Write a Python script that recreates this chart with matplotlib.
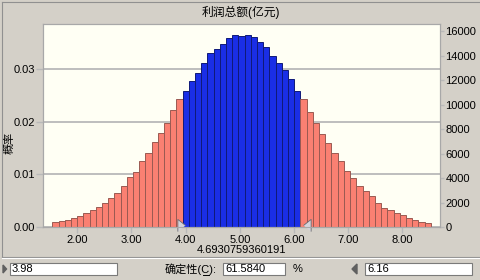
import matplotlib
matplotlib.use('Agg')
import matplotlib.pyplot as plt
import numpy as np
from matplotlib.patches import Rectangle
from matplotlib.lines import Line2D
from matplotlib.ticker import FormatStrFormatter

plt.rcParams['font.family'] = ['Liberation Sans', 'Noto Sans CJK SC']

# histogram data (probability per bin)
probs = [0.00095, 0.0011, 0.0014, 0.0018, 0.0020, 0.0027, 0.0033, 0.0038, 0.0046, 0.0056,
         0.0065, 0.0079, 0.0095, 0.0105, 0.0125, 0.0141, 0.0161, 0.0179, 0.0198, 0.0222, 0.0243,
         0.0259, 0.0278, 0.0293, 0.0313, 0.0332, 0.0338, 0.0349, 0.0360, 0.0366, 0.0363,
         0.0365, 0.0362, 0.0353, 0.0342, 0.0326, 0.0313, 0.0299, 0.0282, 0.0259,
         0.0243, 0.0219, 0.0198, 0.0177, 0.0159, 0.0141, 0.0125, 0.0107, 0.0093, 0.0079,
         0.0069, 0.0059, 0.0046, 0.0037, 0.0032, 0.0027, 0.0022, 0.0017, 0.0014, 0.0010, 0.0008]
bin_lo, bin_hi = 1.54, 8.525
lower, upper = 3.98, 6.16
certainty = '61.5840'
mean_text = '4.6930759360191'
title = '利润总额(亿元)'
x_ticks = [2, 3, 4, 5, 6, 7, 8]
y_ticks = [0.0, 0.01, 0.02, 0.03]
freq_ticks = list(range(0, 16001, 2000))

W, H = 481, 280
fig = plt.figure(figsize=(W / 100, H / 100), dpi=100, facecolor='#d4d0c8')

def fx(x):
    return x / W

def fy(y):
    return 1 - y / H

ax = fig.add_axes([fx(43), fy(227), (440 - 43) / W, (227 - 24) / H])
ax.set_facecolor('#fffff4')

edges = np.linspace(bin_lo, bin_hi, len(probs) + 1)
centers = (edges[:-1] + edges[1:]) / 2
inside = (centers >= lower) & (centers <= upper)
fc = ['#1a2ee6' if k else '#fa8072' for k in inside]
ec = ['#101a78' if k else '#9a5a52' for k in inside]
ax.bar(edges[:-1], probs, width=np.diff(edges), align='edge', color=fc,
       edgecolor=ec, linewidth=0.7)

ax.set_xlim(1.367, 8.696)
ax.set_ylim(0, 0.03865)
ax.set_xticks(x_ticks)
ax.set_yticks(y_ticks)
ax.xaxis.set_major_formatter(FormatStrFormatter('%.2f'))
ax.yaxis.set_major_formatter(FormatStrFormatter('%.2f'))
ax.yaxis.grid(True, color='#b9b9b9', lw=1.3)
ax.set_axisbelow(True)
ax.tick_params(axis='y', length=5, color='#b9b9b9', width=1.0, labelsize=8, pad=1)
ax.tick_params(axis='x', length=4, color='#b9b9b9', width=1.0, labelsize=8, pad=2)
for s in ax.spines.values():
    s.set_color('#a8a8a8')
    s.set_linewidth(0.8)

ax2 = ax.twinx()
ax2.set_ylim(0, 16600)
ax2.set_yticks(freq_ticks)
ax2.tick_params(axis='y', length=3, color='#b9b9b9', width=1.0, labelsize=8, pad=1)
for s in ax2.spines.values():
    s.set_color('#a8a8a8')
    s.set_linewidth(0.8)

# certainty range markers
right_tri = [(-1, -0.8), (-1, 0.8), (0, 0)]
left_tri = [(1, -0.8), (1, 0.8), (0, 0)]
ax.plot([lower], [0.0003], marker=right_tri, ms=11, mfc='#d4d4dc', mec='#6a6a70',
        mew=0.6, clip_on=False, zorder=6, ls='none')
ax.plot([upper], [0.0003], marker=left_tri, ms=11, mfc='#d4d4dc', mec='#6a6a70',
        mew=0.6, clip_on=False, zorder=6, ls='none')

fig.text(0.5, fy(12), title, ha='center', va='center', fontsize=8.5)
fig.text(fx(10), fy(143), '概率', rotation=90, ha='center', va='center', fontsize=8)
fig.text(fx(241.5), fy(250), mean_text, ha='center', va='center', fontsize=8)

# panel frame and separator
fig.add_artist(Line2D([fx(2), fx(479)], [fy(2), fy(2)], color='#909090', lw=0.8))
fig.add_artist(Line2D([fx(2), fx(2)], [fy(2), fy(257)], color='#909090', lw=0.8))
fig.add_artist(Line2D([fx(2), fx(479)], [fy(257), fy(257)], color='#909090', lw=0.8))
fig.add_artist(Line2D([fx(2), fx(479)], [fy(258), fy(258)], color='#ffffff', lw=0.8))

# bottom controls
def textbox(x0, x1, txt):
    fig.add_artist(Rectangle((fx(x0), fy(275)), (x1 - x0) / W, 12 / H,
                             facecolor='white', edgecolor='#7a7a7a', lw=0.8,
                             transform=fig.transFigure))
    fig.text(fx(x0 + 2), fy(269), txt, ha='left', va='center', fontsize=8)

textbox(10, 117, f'{lower:.2f}')
textbox(223, 285, certainty)
textbox(365, 472, f'{upper:.2f}')
fig.text(fx(165), fy(269), '确定性(C):', ha='left', va='center', fontsize=8)
fig.add_artist(Line2D([fx(203), fx(209)], [fy(275), fy(275)], color='black', lw=0.7))
fig.text(fx(293), fy(269), '%', ha='left', va='center', fontsize=8)
fig.add_artist(plt.Polygon([(fx(3), fy(265)), (fx(3), fy(273)), (fx(6.5), fy(269))],
                           closed=True, color='#606060', transform=fig.transFigure))
fig.add_artist(plt.Polygon([(fx(357), fy(264)), (fx(357), fy(274)), (fx(352), fy(269))],
                           closed=True, color='#606060', transform=fig.transFigure))

fig.savefig('out.png', dpi=100, facecolor=fig.get_facecolor())
